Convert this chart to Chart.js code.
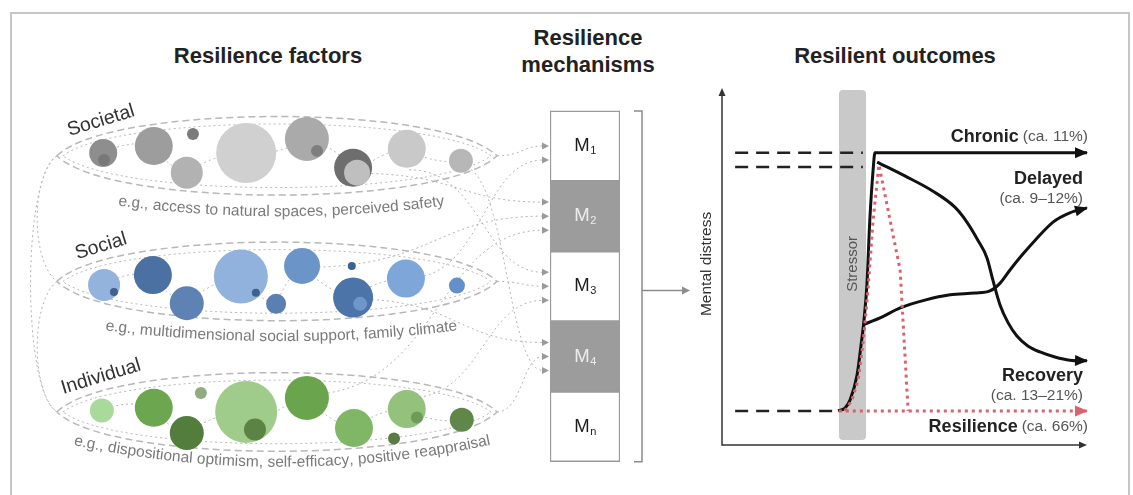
<!DOCTYPE html>
<html>
<head>
<meta charset="utf-8">
<script src="https://cdn.jsdelivr.net/npm/chart.js@4.4.0/dist/chart.umd.min.js"></script>
<style>
  body { margin: 0; background: #fff; overflow: hidden; font-family: "Liberation Sans", Arial, sans-serif; }
  #frame { position: absolute; left: 10px; top: 12px; width: 1116px; height: 600px; border: 2px solid #c6c6c6; border-bottom: none; }
  .title { position: absolute; font-weight: bold; font-size: 22px; color: #222; text-align: center; line-height: 27px; }
  .box { position: absolute; }
</style>
</head>
<body>
<div id="frame"></div>
<div class="title" style="left:138px;top:42px;width:260px">Resilience factors</div>
<div class="title" style="left:488px;top:24px;width:200px">Resilience<br>mechanisms</div>
<div class="title" style="left:765px;top:42px;width:260px">Resilient outcomes</div>

<div class="box" style="left:11px;top:80px;width:539px;height:400px"><canvas id="factors"></canvas></div>
<div class="box" style="left:530px;top:80px;width:170px;height:400px"><canvas id="mechanisms"></canvas></div>
<div class="box" style="left:700px;top:80px;width:430px;height:400px"><canvas id="outcomes"></canvas></div>

<script>
// ---------- data ----------
// factor groups (levels share the vertical units of the mechanism stack, Mn = 0-1 ... M1 = 4-5)
const factorRows = ['Societal', 'Social', 'Individual'];
const factorLevels = [4.36, 2.57, 0.71];
const factorExamples = [
  'e.g., access to natural spaces, perceived safety',
  'e.g., multidimensional social support, family climate',
  'e.g., dispositional optimism, self-efficacy, positive reappraisal'
];

// bubbles: x = place along the group (0-100), y = level, r = size
const societalX = [10.5, 10.7, 22.0, 30.9, 29.5, 43.0, 56.8, 59.1, 67.3, 68.2, 79.5, 91.8];
const societalY = [4.40, 4.30, 4.50, 4.67, 4.12, 4.40, 4.60, 4.43, 4.19, 4.12, 4.46, 4.29];
const societalR = [14, 6, 19, 6, 16, 30, 22, 6, 19, 13, 19, 12];

const socialX = [10.7, 12.95, 21.8, 29.5, 41.8, 45.2, 49.8, 55.7, 67.0, 67.3, 68.9, 79.3, 90.9];
const socialY = [2.52, 2.42, 2.66, 2.26, 2.64, 2.41, 2.25, 2.79, 2.79, 2.34, 2.25, 2.61, 2.51];
const socialR = [16, 4, 19, 17, 27, 4, 10, 18, 4, 20, 7, 19, 8];

const individualX = [10.2, 22.0, 32.7, 29.5, 43.0, 45.0, 56.8, 67.5, 76.6, 79.5, 81.8, 92.0];
const individualY = [0.73, 0.77, 0.98, 0.41, 0.71, 0.46, 0.91, 0.48, 0.33, 0.75, 0.63, 0.60];
const individualR = [12, 19, 6, 17, 31, 11, 22, 19, 6, 19, 6, 12];

// mechanisms, top to bottom
const mechanismSubs = ['1', '2', '3', '4', 'n'];
const mechanismShaded = [false, true, false, true, false];
const mechanismInputs = [2, 3, 3, 3, 0];

// dashed links: [factor row, place along row, level offset, mechanism, input slot]
const factorLinks = [
  [0, 100, 0, 0, 0], [1, 80, 0.05, 0, 1],
  [0, 68, -0.25, 1, 0], [1, 56, 0.2, 1, 1], [2, 57, 0.25, 1, 2],
  [0, 80, -0.2, 2, 0], [1, 100, 0, 2, 1], [2, 80, 0.2, 2, 2],
  [1, 67, -0.25, 3, 0], [2, 100, 0, 3, 1], [0, 92, -0.15, 3, 2]
];

// outcomes: x = time (0-100), y = mental distress (0-100)
const baselineLevel = 9.6;
const peakLevels = [82.3, 78.3];
const stressorWindow = [32.05, 39.45];
const onsetX = [31.8, 33.7, 35.1, 37.0, 38.1, 38.9, 39.7, 40.5, 41.4, 41.9];
const onsetY = [9.6, 10.4, 12.7, 19.7, 28.2, 35.2, 45.1, 63.4, 77.5, 82.3];
const chronicX = onsetX.concat([100]);
const chronicY = onsetY.concat([82.3]);
const delayedX = [38.9, 43.3, 48.8, 55.6, 62.5, 69.3, 73.4, 76.2, 78.9, 82.2, 85.8, 90.7, 95.3, 100];
const delayedY = [34.0, 35.8, 38.6, 40.8, 42.3, 42.8, 43.4, 45.6, 49.3, 53.5, 57.7, 62.8, 65.4, 66.8];
const recoveryX = [42.5, 50.1, 57.8, 63.8, 67.1, 70.1, 72.6, 74.2, 76.2, 78.4, 80.8, 83.8, 87.1, 91.2, 95.3, 100];
const recoveryY = [79.7, 75.8, 71.5, 67.0, 62.8, 57.7, 52.7, 46.5, 39.4, 34.4, 30.7, 27.9, 26.2, 24.8, 23.9, 23.7];
const responseX = [33.7, 35.6, 37.3, 38.6, 40.0, 41.4, 43.0, 48.8, 51.0];
const responseY = [9.6, 12.7, 18.3, 28.2, 43.7, 63.4, 78.9, 49.3, 9.6];
const resilienceX = [32, 100];
const preStressX = [3.6, 32];
const peakX = [3.6, 38.6];

const outcomeNames = ['Chronic', 'Delayed', 'Recovery', 'Resilience'];
const outcomeShares = ['(ca. 11%)', '(ca. 9\u201312%)', '(ca. 13\u201321%)', '(ca. 66%)'];

// ---------- colours ----------
const societalColors = ['#8e8e8e', '#787878', '#9d9d9d', '#7b7b7b', '#b2b2b2', '#d0d0d0', '#aaaaaa', '#7e7e7e', '#6e6e6e', '#bfbfbf', '#c9c9c9', '#b7b7b7'];
const socialColors = ['#93b3dc', '#3f6190', '#4b70a2', '#5d82b3', '#91b2dd', '#3f6190', '#5a7fb0', '#6b95c9', '#3f6190', '#4c74a8', '#6d96ca', '#7ea6d8', '#6190cb'];
const individualColors = ['#a9da9b', '#6ca64f', '#8fab80', '#527d3c', '#a0cc8b', '#5c8246', '#6aa54e', '#80b766', '#587c43', '#94c27d', '#6f9b59', '#5f8749'];
const red = '#d8636c';
const FONT = '"Liberation Sans", Arial, sans-serif';

function zip3(xs, ys, rs) {
    return xs.map(function (x, i) { return { x: x, y: ys[i], r: rs[i] }; });
}
function zip2(xs, ys) {
    return xs.map(function (x, i) { return { x: x, y: ys[i] }; });
}
// level of an input arrow on a mechanism box
function inputLevel(mech, slot) {
    const count = mechanismInputs[mech];
    return (4 - mech) + 0.3 + 0.2 * (count - 1 - slot);
}

// text bent along a shallow arc, centred on (mx,my)
function arcText(ctx, text, mx, my, radius) {
    const total = ctx.measureText(text).width;
    let s = -total / 2;
    for (const ch of text) {
        const w = ctx.measureText(ch).width;
        const ang = (s + w / 2) / radius;
        ctx.save();
        ctx.translate(mx + radius * Math.sin(ang), my - radius * (1 - Math.cos(ang)));
        ctx.rotate(-ang);
        ctx.fillText(ch, 0, 0);
        ctx.restore();
        s += w;
    }
}

function arrowHead(ctx, tipX, tipY, fromX, fromY, len, half, color) {
    const a = Math.atan2(tipY - fromY, tipX - fromX);
    ctx.save();
    ctx.translate(tipX, tipY);
    ctx.rotate(a);
    ctx.fillStyle = color;
    ctx.beginPath();
    ctx.moveTo(0, 0);
    ctx.lineTo(-len, -half);
    ctx.lineTo(-len, half);
    ctx.closePath();
    ctx.fill();
    ctx.restore();
}

const common = {
    responsive: true,
    maintainAspectRatio: false,
    animation: false,
    events: [],
    plugins: { legend: { display: false }, tooltip: { enabled: false } }
};

// ---------- resilience factors ----------
const groupXs = [societalX, socialX, individualX];
const groupYs = [societalY, socialY, individualY];
const groupRs = [societalR, socialR, individualR];
const exampleDrop = [0.80, 0.79, 0.72];
const exampleBend = [1240, 1440, 1000];

const factorDecor = {
    id: 'factorDecor',
    beforeDatasetsDraw: function (chart) {
        const ctx = chart.ctx, xs = chart.scales.x, ys = chart.scales.y;
        ctx.save();
        ctx.lineWidth = 1;
        ctx.strokeStyle = '#b4b4b4';
        ctx.setLineDash([2, 3]);

        // arcs joining the groups on the left
        [[0, 1, -6], [1, 2, -6], [0, 2, -8]].forEach(function (p) {
            const y0 = ys.getPixelForValue(factorLevels[p[0]]), y1 = ys.getPixelForValue(factorLevels[p[1]]);
            const x0 = xs.getPixelForValue(0), xb = xs.getPixelForValue(p[2]);
            ctx.beginPath();
            ctx.moveTo(x0, y0);
            ctx.bezierCurveTo(xb, y0 + 20, xb, y1 - 20, x0, y1);
            ctx.stroke();
        });

        // links between neighbouring bubbles
        for (let g = 0; g < 3; g++) {
            const pts = [];
            groupXs[g].forEach(function (x, i) { if (groupRs[g][i] >= 10) pts.push([x, groupYs[g][i]]); });
            pts.sort(function (a, b) { return a[0] - b[0]; });
            for (let i = 0; i < pts.length - 1; i++) {
                const ax = xs.getPixelForValue(pts[i][0]), ay = ys.getPixelForValue(pts[i][1]);
                const bx = xs.getPixelForValue(pts[i + 1][0]), by = ys.getPixelForValue(pts[i + 1][1]);
                ctx.beginPath();
                ctx.moveTo(ax, ay);
                ctx.quadraticCurveTo((ax + bx) / 2, (ay + by) / 2 + 10 * (i % 2 ? 1 : -1), bx, by);
                ctx.stroke();
            }
        }

        // links running to the mechanisms
        const endX = chart.width - 7;
        factorLinks.forEach(function (l) {
            const sx = xs.getPixelForValue(l[1]), sy = ys.getPixelForValue(factorLevels[l[0]] + l[2]);
            const ey = ys.getPixelForValue(inputLevel(l[3], l[4]));
            const mid = sx + (endX - sx) * 0.55;
            ctx.beginPath();
            ctx.moveTo(sx, sy);
            ctx.bezierCurveTo(mid, sy, mid, ey, endX, ey);
            ctx.stroke();
        });

        // group outlines
        factorLevels.forEach(function (lv) {
            const l = xs.getPixelForValue(0), r = xs.getPixelForValue(100), cy = ys.getPixelForValue(lv);
            const h = (ys.getPixelForValue(lv - 0.56) - cy) / 0.75;
            const w = r - l;
            ctx.strokeStyle = '#b8b8b8';
            ctx.lineWidth = 1.5;
            ctx.setLineDash([7, 4]);
            ctx.beginPath();
            ctx.moveTo(l, cy);
            ctx.bezierCurveTo(l + 0.12 * w, cy - h, r - 0.12 * w, cy - h, r, cy);
            ctx.bezierCurveTo(r - 0.12 * w, cy + h, l + 0.12 * w, cy + h, l, cy);
            ctx.stroke();
            ctx.lineWidth = 1;
            ctx.setLineDash([2, 3]);
            ctx.beginPath();
            ctx.moveTo(l + 6, cy);
            ctx.bezierCurveTo(l + 0.14 * w, cy - h + 10, r - 0.14 * w, cy - h + 10, r - 6, cy);
            ctx.bezierCurveTo(r - 0.14 * w, cy + h - 10, l + 0.14 * w, cy + h - 10, l + 6, cy);
            ctx.stroke();
        });
        ctx.restore();
    },
    afterDatasetsDraw: function (chart) {
        const ctx = chart.ctx, xs = chart.scales.x, ys = chart.scales.y;
        ctx.save();
        ctx.textAlign = 'center';
        ctx.textBaseline = 'middle';
        factorRows.forEach(function (name, g) {
            // group name, tilted
            ctx.save();
            ctx.translate(xs.getPixelForValue(10), ys.getPixelForValue(factorLevels[g] + 0.5));
            ctx.rotate(-17 * Math.PI / 180);
            ctx.fillStyle = '#333';
            ctx.font = '19.5px ' + FONT;
            ctx.fillText(name, 0, 0);
            ctx.restore();
            // example text under the outline
            ctx.fillStyle = '#7a7a7a';
            ctx.font = '15.5px ' + FONT;
            arcText(ctx, factorExamples[g], xs.getPixelForValue(51), ys.getPixelForValue(factorLevels[g] - exampleDrop[g]), exampleBend[g]);
        });
        ctx.restore();
    }
};

new Chart(document.getElementById('factors'), {
    type: 'bubble',
    data: {
        datasets: [
            { label: factorRows[0], data: zip3(societalX, societalY, societalR), backgroundColor: societalColors },
            { label: factorRows[1], data: zip3(socialX, socialY, socialR), backgroundColor: socialColors },
            { label: factorRows[2], data: zip3(individualX, individualY, individualR), backgroundColor: individualColors }
        ]
    },
    options: Object.assign({}, common, {
        layout: { padding: 0, autoPadding: false },
        elements: { point: { borderWidth: 0 } },
        scales: {
            x: { type: 'linear', min: -10.45, max: 112.05, display: false },
            y: { type: 'linear', min: -0.26, max: 5.44, display: false }
        }
    }),
    plugins: [factorDecor]
});

// ---------- resilience mechanisms ----------
const mechanismDecor = {
    id: 'mechanismDecor',
    afterDatasetsDraw: function (chart) {
        const ctx = chart.ctx, a = chart.chartArea, ys = chart.scales.y;
        ctx.save();
        ctx.textBaseline = 'middle';
        const n = mechanismSubs.length;
        chart.data.datasets.forEach(function (ds, i) {
            const k = n - 1 - i;
            const bar = chart.getDatasetMeta(i).data[0];
            const cy = (bar.y + bar.base) / 2;
            ctx.fillStyle = mechanismShaded[k] ? '#ececec' : '#1e1e1e';
            ctx.font = '18.5px ' + FONT;
            const wM = ctx.measureText('M').width;
            ctx.font = '11px ' + FONT;
            const wS = ctx.measureText(mechanismSubs[k]).width;
            const x0 = bar.x - (wM + wS) / 2;
            ctx.textAlign = 'left';
            ctx.font = '18.5px ' + FONT;
            ctx.fillText('M', x0, cy);
            ctx.font = '11px ' + FONT;
            ctx.fillText(mechanismSubs[k], x0 + wM + 0.5, cy + 5);
        });

        // input arrowheads
        mechanismInputs.forEach(function (count, k) {
            for (let s = 0; s < count; s++) {
                const y = ys.getPixelForValue(inputLevel(k, s));
                arrowHead(ctx, a.left - 1, y, a.left - 10, y, 7, 3.5, '#9a9a9a');
            }
        });

        // bracket and arrow to outcomes
        const bx = a.right + 22;
        const top = ys.getPixelForValue(5), bot = ys.getPixelForValue(0), mid = ys.getPixelForValue(2.44);
        ctx.strokeStyle = '#8c8c8c';
        ctx.lineWidth = 1.5;
        ctx.beginPath();
        ctx.moveTo(bx - 8, top); ctx.lineTo(bx, top); ctx.lineTo(bx, bot); ctx.lineTo(bx - 8, bot);
        ctx.moveTo(bx, mid); ctx.lineTo(bx + 42, mid);
        ctx.stroke();
        arrowHead(ctx, bx + 48, mid, bx, mid, 8, 4, '#8c8c8c');
        ctx.restore();
    }
};

const mechDatasets = mechanismSubs.map(function (s, k) {
    return {
        label: 'M' + s,
        data: [1],
        backgroundColor: mechanismShaded[k] ? '#9c9c9c' : '#ffffff',
        borderColor: '#9a9a9a',
        borderWidth: 1.5,
        borderSkipped: false,
        barPercentage: 1,
        categoryPercentage: 1
    };
}).reverse();

new Chart(document.getElementById('mechanisms'), {
    type: 'bar',
    data: { labels: ['mechanisms'], datasets: mechDatasets },
    options: Object.assign({}, common, {
        layout: { padding: { left: 20, right: 80, top: 0, bottom: 0 }, autoPadding: false },
        scales: {
            x: { stacked: true, display: false },
            y: { stacked: true, min: -0.26, max: 5.44, display: false }
        }
    }),
    plugins: [mechanismDecor]
});

// ---------- resilient outcomes ----------
const outcomeDecor = {
    id: 'outcomeDecor',
    beforeDatasetsDraw: function (chart) {
        const ctx = chart.ctx, a = chart.chartArea, xs = chart.scales.x, ys = chart.scales.y;
        ctx.save();
        // stressor band
        const x0 = xs.getPixelForValue(stressorWindow[0]), x1 = xs.getPixelForValue(stressorWindow[1]);
        const yT = ys.getPixelForValue(100), yB = ys.getPixelForValue(1.4);
        ctx.fillStyle = '#c9c9c9';
        ctx.beginPath();
        ctx.roundRect(x0, yT, x1 - x0, yB - yT, 4);
        ctx.fill();
        ctx.save();
        ctx.translate((x0 + x1) / 2, ys.getPixelForValue(51));
        ctx.rotate(-Math.PI / 2);
        ctx.fillStyle = '#555';
        ctx.font = '15px ' + FONT;
        ctx.textAlign = 'center';
        ctx.textBaseline = 'middle';
        ctx.fillText('Stressor', 0, 0);
        ctx.restore();

        // axes
        ctx.strokeStyle = '#333';
        ctx.lineWidth = 1.5;
        ctx.beginPath();
        ctx.moveTo(a.left, a.top + 4); ctx.lineTo(a.left, a.bottom); ctx.lineTo(a.right - 4, a.bottom);
        ctx.stroke();
        arrowHead(ctx, a.left, a.top - 2, a.left, a.bottom, 8, 3.5, '#333');
        arrowHead(ctx, a.right, a.bottom, a.left, a.bottom, 8, 3.5, '#333');
        ctx.save();
        ctx.translate(a.left - 15, ys.getPixelForValue(51));
        ctx.rotate(-Math.PI / 2);
        ctx.fillStyle = '#333';
        ctx.font = '15.5px ' + FONT;
        ctx.textAlign = 'center';
        ctx.textBaseline = 'middle';
        ctx.fillText('Mental distress', 0, 0);
        ctx.restore();
        ctx.restore();
    },
    afterDatasetsDraw: function (chart) {
        const ctx = chart.ctx, a = chart.chartArea;
        ctx.save();
        chart.data.datasets.forEach(function (ds, i) {
            const pts = chart.getDatasetMeta(i).data;
            const last = pts[pts.length - 1], prev = pts[pts.length - 2];
            if (ds.arrow) {
                const fx = (last.cp1x !== undefined && last.cp1x !== last.x) ? last.cp1x : prev.x;
                const fy = (last.cp1x !== undefined && last.cp1x !== last.x) ? last.cp1y : prev.y;
                arrowHead(ctx, last.x + 1, last.y, fx, fy, 13, 5.5, ds.arrow);
            }
            if (ds.outcome === undefined) return;
            const o = ds.outcome;
            ctx.textBaseline = 'middle';
            ctx.textAlign = 'right';
            if (o === 0 || o === 3) {
                const y = last.y + (o === 0 ? -16 : 16);
                ctx.font = '15.5px ' + FONT;
                ctx.fillStyle = '#555';
                ctx.fillText(outcomeShares[o], a.right + 1, y);
                const w = ctx.measureText(outcomeShares[o]).width;
                ctx.font = 'bold 18px ' + FONT;
                ctx.fillStyle = '#222';
                ctx.fillText(outcomeNames[o], a.right + 1 - w - 4, y);
            } else {
                const y1 = o === 1 ? last.y - 29 : last.y + 15;
                ctx.font = 'bold 18px ' + FONT;
                ctx.fillStyle = '#222';
                ctx.fillText(outcomeNames[o], a.right - 4, y1);
                ctx.font = '15.5px ' + FONT;
                ctx.fillStyle = '#555';
                ctx.fillText(outcomeShares[o], a.right - 4, y1 + 20);
            }
        });
        ctx.restore();
    }
};

const dashed = { borderColor: '#222', borderWidth: 2.5, borderDash: [13, 8], tension: 0 };
const solid = { borderColor: '#111', borderWidth: 3, cubicInterpolationMode: 'monotone', borderJoinStyle: 'round' };
const dotted = { borderColor: red, borderWidth: 3, borderDash: [3, 4], tension: 0 };

new Chart(document.getElementById('outcomes'), {
    type: 'line',
    data: {
        datasets: [
            Object.assign({ label: 'before', data: zip2(preStressX, [baselineLevel, baselineLevel]) }, dashed),
            Object.assign({ label: 'peak 1', data: zip2(peakX, [peakLevels[0], peakLevels[0]]) }, dashed),
            Object.assign({ label: 'peak 2', data: zip2(peakX, [peakLevels[1], peakLevels[1]]) }, dashed),
            Object.assign({ label: 'response', data: zip2(responseX, responseY) }, dotted),
            Object.assign({ label: outcomeNames[3], data: zip2(resilienceX, [baselineLevel, baselineLevel]), outcome: 3, arrow: red }, dotted),
            Object.assign({ label: outcomeNames[2], data: zip2(recoveryX, recoveryY), outcome: 2, arrow: '#111' }, solid),
            Object.assign({ label: outcomeNames[1], data: zip2(delayedX, delayedY), outcome: 1, arrow: '#111' }, solid),
            Object.assign({ label: outcomeNames[0], data: zip2(chronicX, chronicY), outcome: 0, arrow: '#111' }, solid)
        ]
    },
    options: Object.assign({}, common, {
        layout: { padding: { left: 22, right: 43, top: 10, bottom: 35 }, autoPadding: false },
        elements: { point: { radius: 0 } },
        scales: {
            x: { type: 'linear', min: 0, max: 100, display: false },
            y: { type: 'linear', min: 0, max: 100, display: false }
        }
    }),
    plugins: [outcomeDecor]
});
</script>
</body>
</html>
